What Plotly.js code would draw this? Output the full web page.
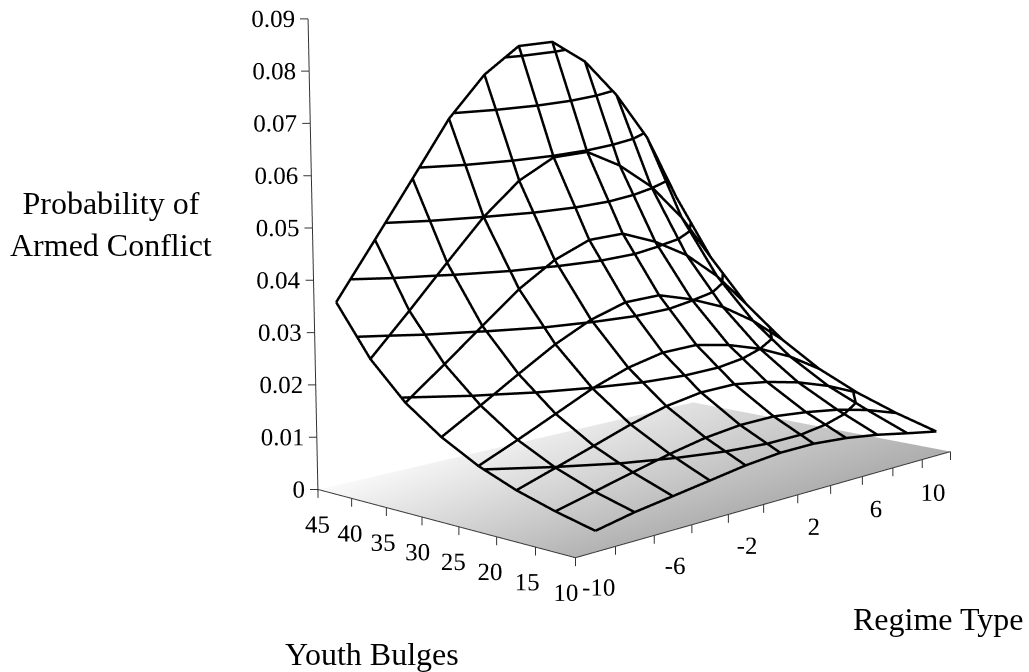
<!DOCTYPE html>
<html><head><meta charset="utf-8">
<script src="https://cdn.plot.ly/plotly-3.0.1.min.js"></script>
<style>html,body{margin:0;padding:0;background:#fff}#c{width:1029px;height:672px}</style>
</head><body><div id="c"></div>
<script>
const regime=[-11,-9,-7,-5,-3,-1,1,3,5,7,9];
const youth=[45,40,35,30,25,20,15,10];
const prob=[
[.036,.047,.058,.069,.077,.082,.082,.077,.069,.059,.045],
[.0262,.0341,.0422,.0500,.0561,.0597,.0597,.0558,.0503,.0427,.0330],
[.0192,.0250,.0309,.0367,.0411,.0438,.0438,.0409,.0369,.0313,.0242],
[.0142,.0185,.0229,.0271,.0304,.0324,.0324,.0302,.0273,.0231,.0179],
[.0104,.0135,.0167,.0199,.0223,.0237,.0237,.0222,.0200,.0170,.0131],
[.0076,.0099,.0122,.0145,.0163,.0173,.0173,.0162,.0146,.0124,.0096],
[.0055,.0072,.0089,.0105,.0118,.0125,.0125,.0117,.0106,.0090,.0069],
[.0038,.0052,.0062,.0072,.0082,.0088,.0088,.0082,.0072,.0059,.0047]];
const levels=[.01,.02,.03,.04,.05,.06,.07,.08];
const regimeTicks=[-12,-10,-8,-6,-4,-2,0,2,4,6,8,10];
const regimeLabelVals=[-10,-6,-2,2,6,10];
const regimeLabels=['-10','-6','-2','2','6','10'];
const youthTicks=[45,40,35,30,25,20,15,10];
const youthLabels=['45','40','35','30','25','20','15','10'];
const probTicks=[0,.01,.02,.03,.04,.05,.06,.07,.08,.09];
const probLabels=['0','0.01','0.02','0.03','0.04','0.05','0.06','0.07','0.08','0.09'];
const floorShade=[[.70,.68],[.98,.88]];

// The reference uses a soft oblique projection; these map axis values to an orthographic scene.
const X=r=>{const s=(r+12)/22;return -12+22*s*(1+.19*(1-s));};
const Y=t=>{const s=(45-t)/35;return 45-35*s*(1-.1*(1-s));};
const Z=(r,t,z)=>{const u=(X(r)+12)/22,v=(Y(t)-10)/35,d=(u+v)/2;return z*(1.07-.19*d)-.00364*u*v;};
const PX={x:.02835,y:-.0703}; // scene units per screen pixel to the right
const Zpx=.09/470;
const lean=z=>z/.09*10;
const node=(r,t,z)=>[X(r)-lean(z)/2*PX.x,Y(t)-lean(z)/2*PX.y,Z(r,t,z)];

const line=(a,color,width)=>({type:'scatter3d',mode:'lines',x:a.x,y:a.y,z:a.z,connectgaps:false,line:{color,width},hoverinfo:'skip'});
const bag=()=>({x:[],y:[],z:[]});
const seg=(b,...pts)=>{pts.forEach(p=>{b.x.push(p[0]);b.y.push(p[1]);b.z.push(p[2]);});b.x.push(null);b.y.push(null);b.z.push(null);};

const grid=bag();
youth.forEach((t,i)=>seg(grid,...regime.map((r,j)=>node(r,t,prob[i][j]))));
regime.forEach((r,j)=>seg(grid,...youth.map((t,i)=>node(r,t,prob[i][j]))));

const cont=bag();
for(const L of levels){
 for(let i=0;i<youth.length-1;i++)for(let j=0;j<regime.length-1;j++){
  const pts=[];
  const corner=[[i,j],[i,j+1],[i+1,j+1],[i+1,j]];
  for(let k=0;k<4;k++){
   const [a,b]=corner[k],[c,d]=corner[(k+1)%4];
   const p=prob[a][b],q=prob[c][d];
   if((p<L)!==(q<L)){const f=(L-p)/(q-p);const r=regime[b]+f*(regime[d]-regime[b]),t=youth[a]+f*(youth[c]-youth[a]);pts.push(node(r,t,L));}
  }
  if(pts.length>=2)seg(cont,pts[0],pts[1]);
 }
}

const ax=bag();
seg(ax,[X(-12),Y(45),0],[X(-12),Y(10),0],[X(10),Y(10),0]);
seg(ax,[X(-12),Y(45),-.0016],[X(-12)-lean(.09)*PX.x,Y(45)-lean(.09)*PX.y,.09]);
regimeTicks.forEach(r=>seg(ax,[X(r),Y(10),0],[X(r),Y(10),-.0016]));
youthTicks.forEach(t=>seg(ax,[X(-12),Y(t),0],[X(-12),Y(t),-.0016]));
probTicks.forEach(z=>{const a=lean(z),b=a+8;seg(ax,[X(-12)-a*PX.x,Y(45)-a*PX.y,z],[X(-12)-b*PX.x,Y(45)-b*PX.y,z]);});

const tf={family:'"Liberation Serif",serif',size:25,color:'#000'};
const text=(x,y,z,t,pos)=>({type:'scatter3d',mode:'text',x,y,z,text:t,textposition:pos,textfont:tf,hoverinfo:'skip'});
const hide={visible:false,showspikes:false};
const traces=[
{type:'surface',x:[X(-12),X(10)],y:[Y(10),Y(45)],z:[[Z(-12,10,0),Z(10,10,0)],[Z(-12,45,0),Z(10,45,0)]],surfacecolor:floorShade,cmin:0,cmax:1,colorscale:[[0,'#000'],[1,'#fff']],showscale:false,lighting:{ambient:1,diffuse:0,specular:0,fresnel:0},hoverinfo:'skip'},
line(ax,'#333',2),
line(grid,'#000',5),
line(cont,'#000',5),
text(regimeLabelVals.map(r=>X(r)-17*PX.x),regimeLabelVals.map(r=>Y(10)-17*PX.y),regimeLabelVals.map(r=>-41*Zpx),regimeLabels,'middle center'),
text(youthTicks.map(t=>{const s=1+8*(45-t)/35;return X(-12)-s*PX.x;}),youthTicks.map(t=>{const s=1+8*(45-t)/35;return Y(t)-s*PX.y;}),youthTicks.map(t=>-35*Zpx),youthLabels,'middle center'),
text(probTicks.map(z=>X(-12)-(lean(z)-11)*PX.x),probTicks.map(z=>Y(45)-(lean(z)-11)*PX.y),probTicks,probLabels,'middle left')
];
const title=(x,y,t)=>({xref:'paper',yref:'paper',x:x/1029,y:1-y/672,xanchor:'center',yanchor:'middle',text:t,showarrow:false,align:'center',font:{family:tf.family,size:32,color:'#000'}});
const layout={width:1029,height:672,margin:{l:0,r:0,t:0,b:0},paper_bgcolor:'#fff',showlegend:false,
 scene:{domain:{x:[0,1],y:[0,1]},aspectmode:'manual',aspectratio:{x:1.751,y:1.188,z:1.683},
  camera:{projection:{type:'orthographic'},eye:{x:-1.611,y:-1.063,z:.309},center:{x:-.306,y:.2,z:-.208},up:{x:0,y:0,z:1}},
  xaxis:Object.assign({range:[-13,11]},hide),
  yaxis:Object.assign({range:[8,47]},hide),
  zaxis:Object.assign({range:[-.012,.092]},hide)},
 annotations:[title(111,224,'Probability of<br>Armed Conflict'),title(372,654,'Youth Bulges'),title(938,619,'Regime Type')]};
Plotly.newPlot('c',traces,layout,{displayModeBar:false});
</script></body></html>
